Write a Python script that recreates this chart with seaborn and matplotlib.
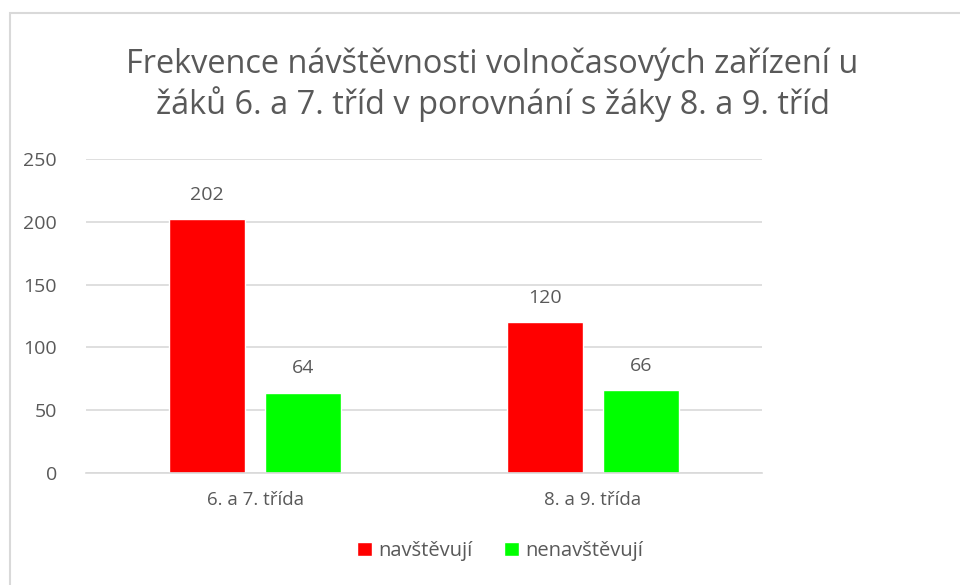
import matplotlib
matplotlib.use("Agg")
import matplotlib.pyplot as plt
import seaborn as sns
import pandas as pd
from matplotlib.patches import Rectangle

categories = ["6. a 7. třída", "8. a 9. třída"]
series_names = ["navštěvují", "nenavštěvují"]
navstevuji = [202, 120]
nenavstevuji = [64, 66]
yticks = [0, 50, 100, 150, 200, 250]

df = pd.DataFrame({
    "cat": categories * 2,
    "series": [series_names[0]] * 2 + [series_names[1]] * 2,
    "value": navstevuji + nenavstevuji,
})

sns.set_theme(style="white")
plt.rcParams["font.family"] = ["Open Sans", "DejaVu Sans"]
txt = "#595959"

fig = plt.figure(figsize=(9.6, 5.85), dpi=100)
ax = fig.add_axes([86 / 960, 1 - 473 / 585, (762 - 86) / 960, (473 - 159) / 585])

sns.barplot(data=df, x="cat", y="value", hue="series", ax=ax,
            palette=["#FF0000", "#00FF00"], width=0.568, gap=0.218,
            saturation=1, legend=True, errorbar=None)

ax.set_xlim(-0.5, 1.5)
ax.set_ylim(0, 250)
ax.set_yticks(yticks)
ax.set_yticklabels([str(v) for v in yticks])
ax.grid(axis="y", color="#D9D9D9", linewidth=1.2)
ax.set_axisbelow(True)
for s in ["top", "right", "left"]:
    ax.spines[s].set_visible(False)
ax.spines["bottom"].set_color("#D9D9D9")
ax.spines["bottom"].set_linewidth(1.2)
ax.tick_params(axis="y", length=0, pad=21, labelsize=14, labelcolor=txt)
ax.tick_params(axis="x", length=0, pad=13, labelsize=13.5, labelcolor=txt)
ax.set_xlabel("")
ax.set_ylabel("")

for cont in ax.containers:
    ax.bar_label(cont, padding=11, fontsize=14, color=txt)

leg = ax.legend(loc="center", bbox_to_anchor=(500 / 960, (585 - 551) / 585), bbox_transform=fig.transFigure,
                ncol=2, frameon=False, fontsize=14.5, labelcolor=txt,
                handlelength=0.75, handleheight=0.75, handletextpad=0.3, columnspacing=1.6)

fig.text(492.5 / 960, 1 - 85 / 585, "Frekvence návštěvnosti volnočasových zařízení u\nžáků 6. a 7. tříd v porovnání s žáky 8. a 9. tříd",
         ha="center", va="center", fontsize=23.4, color=txt, linespacing=1.2)

# chart border (left and top edges visible)
fig.add_artist(Rectangle((10 / 960, -0.01), 1.0, 1 - 13 / 585 + 0.01, transform=fig.transFigure,
                         fill=False, edgecolor="#D9D9D9", linewidth=1.5))

fig.savefig("out.png", dpi=100)
